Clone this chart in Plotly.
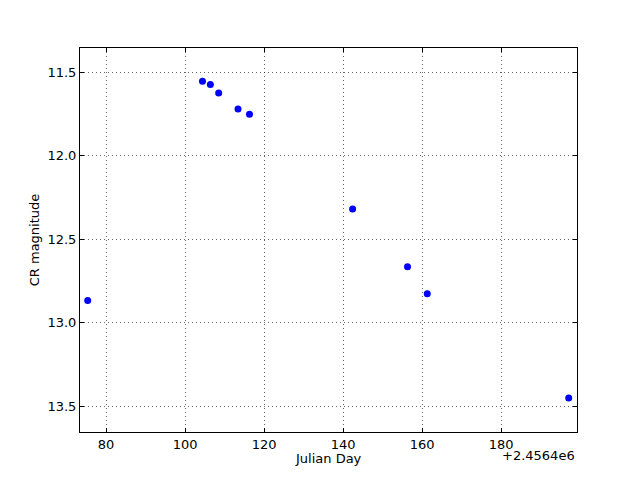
import plotly.graph_objects as go

JD_OFFSET = 2456400
julian_day = [2456475.35, 2456504.4, 2456506.4, 2456508.5, 2456513.4, 2456516.3,
              2456542.4, 2456556.3, 2456561.3, 2456597.1]
cr_magnitude = [12.866, 11.554, 11.574, 11.624, 11.72, 11.751,
                12.318, 12.664, 12.826, 13.45]
x_ticks = [80, 100, 120, 140, 160, 180]
y_ticks = [11.5, 12.0, 12.5, 13.0, 13.5]

x_plot = [d - JD_OFFSET for d in julian_day]

fig = go.Figure()
fig.add_trace(go.Scatter(
    x=x_plot, y=cr_magnitude, mode="markers",
    marker=dict(color="#0000ff", size=7, symbol="circle", line=dict(width=0)),
    showlegend=False,
))

font = dict(family="DejaVu Sans", size=13, color="black")
axis_common = dict(
    showline=True, linecolor="black", linewidth=1, mirror="ticks",
    ticks="inside", ticklen=4, tickcolor="black", tickwidth=1,
    showgrid=True, gridcolor="rgba(0,0,0,0.6)", gridwidth=1, griddash="1px,3px",
    zeroline=False, tickfont=font, automargin=False,
)

fig.update_layout(
    width=640, height=480,
    margin=dict(l=72, r=71, t=40, b=56),
    paper_bgcolor="white", plot_bgcolor="white",
    font=font,
    xaxis=dict(range=[73.4, 199.2], tickvals=x_ticks,
               ticktext=[str(t) for t in x_ticks],
               **axis_common),
    yaxis=dict(range=[13.653, 11.355], tickvals=y_ticks,
               ticktext=[f"{t:.1f}" for t in y_ticks],
               **axis_common),
    annotations=[
        dict(text="Julian Day", xref="paper", yref="paper",
             x=0.5, y=-0.069, xanchor="center", yanchor="middle",
             showarrow=False, font=font),
        dict(text="CR magnitude", xref="paper", yref="paper",
             x=-0.092, y=0.5, xanchor="center", yanchor="middle",
             textangle=-90, showarrow=False, font=font),
        dict(text="+2.4564e6", xref="paper", yref="paper",
             x=1.0, y=-0.061, xanchor="right", yanchor="middle",
             showarrow=False, font=font),
    ],
)

fig.write_html("out.html")
